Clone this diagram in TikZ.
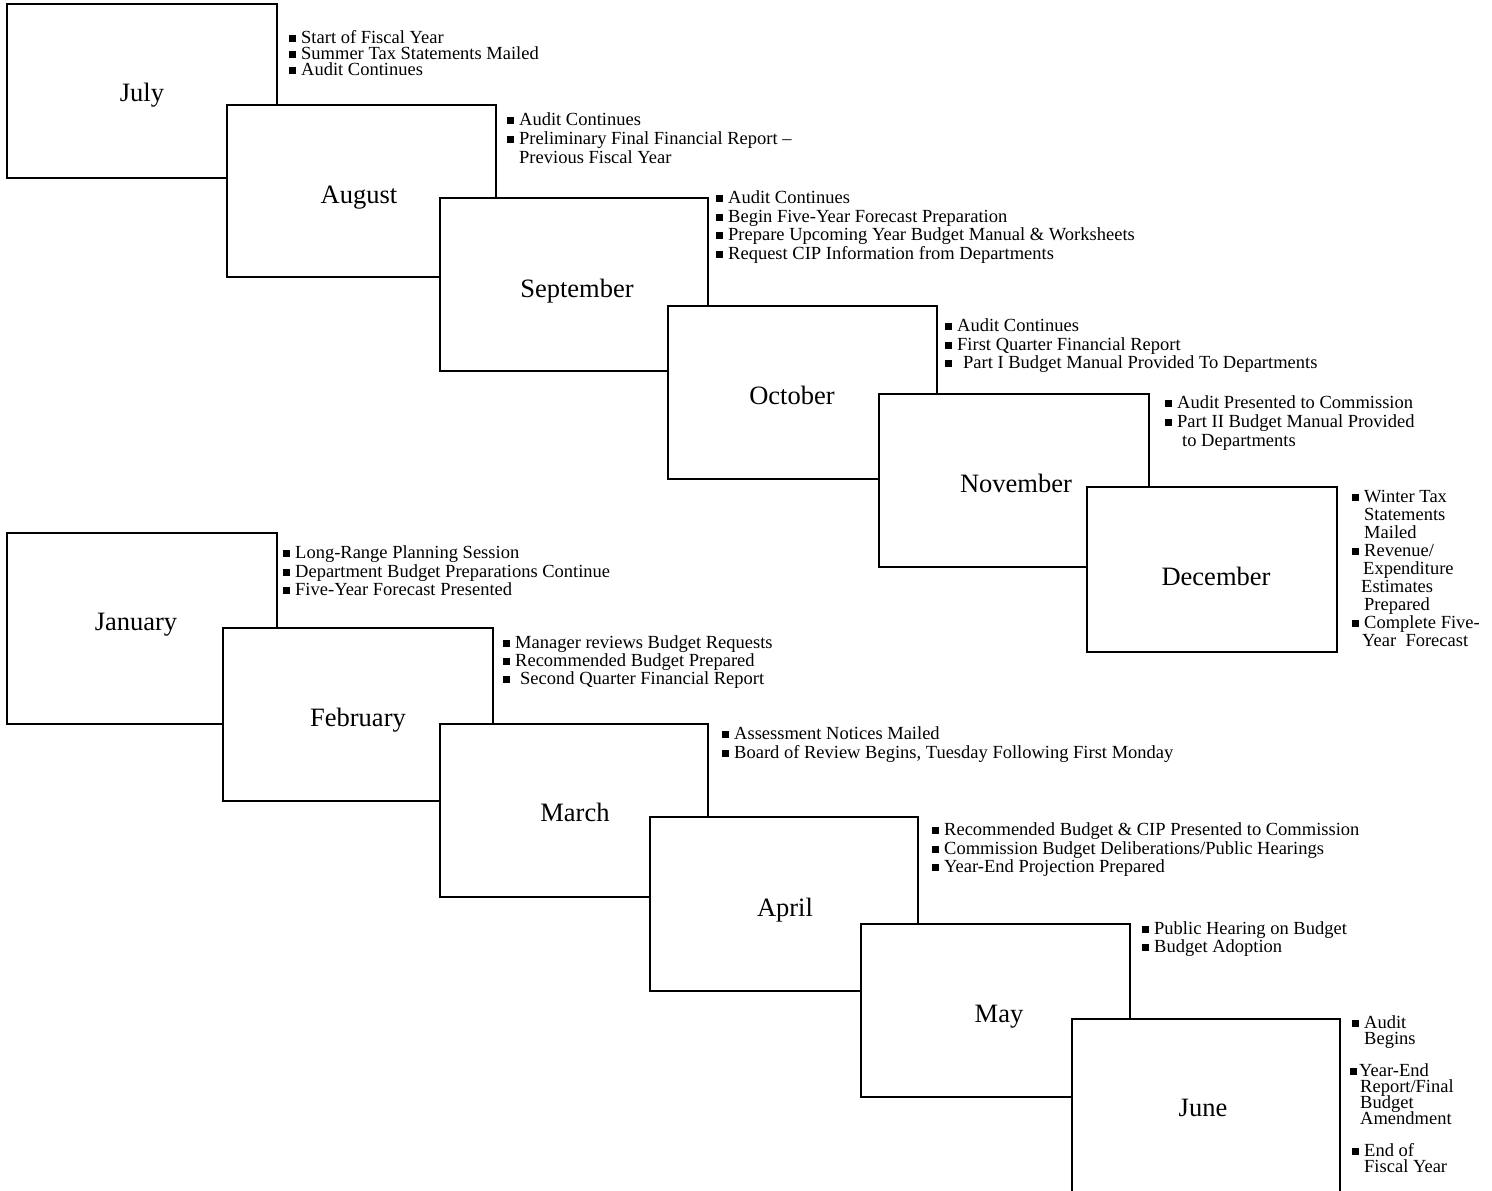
\documentclass[tikz,border=0pt]{standalone}
\usepackage{fontspec}
\setmainfont{Liberation Serif}
\newcommand\bul{\raisebox{1.5pt}{\rule{7pt}{7pt}}}
\newcommand\bitem[2]{\hbox{\rlap{\bul}\kern#1pt #2}}
\newcommand\cont[2]{\hbox{\kern#1pt #2}}
\newcommand\blist[2]{\vtop{\baselineskip=#1pt\lineskiplimit=-100pt\lineskip=0pt #2}}
\tikzset{
  monthbox/.style={draw, fill=white, line width=1.6pt, anchor=north west, inner sep=0pt, outer sep=0pt},
  monthlbl/.style={anchor=base, inner sep=0pt, font=\fontsize{26.5}{28}\selectfont},
  bullist/.style={anchor=base west, inner sep=0pt, font=\fontsize{18.5}{18.5}\selectfont}
}
\begin{document}
\begin{tikzpicture}[x=1pt,y=-1pt]
\clip (0,0) rectangle (1492,1191);
\fill[white] (0,0) rectangle (1492,1191);
% boxes
\node[monthbox, minimum width=270pt, minimum height=174pt] (july) at (7,4) {};
\node[monthbox, minimum width=269pt, minimum height=172pt] (aug) at (227,105) {};
\node[monthbox, minimum width=268pt, minimum height=173pt] (sep) at (440,198) {};
\node[monthbox, minimum width=269pt, minimum height=173pt] (oct) at (668,306) {};
\node[monthbox, minimum width=270pt, minimum height=173pt] (nov) at (879,394) {};
\node[monthbox, minimum width=250pt, minimum height=165pt] (dec) at (1087,487) {};
\node[monthbox, minimum width=270pt, minimum height=191pt] (jan) at (7,533) {};
\node[monthbox, minimum width=270pt, minimum height=173pt] (feb) at (223,628) {};
\node[monthbox, minimum width=268pt, minimum height=173pt] (mar) at (440,724) {};
\node[monthbox, minimum width=268pt, minimum height=174pt] (apr) at (650,817) {};
\node[monthbox, minimum width=269pt, minimum height=173pt] (may) at (861,924) {};
\node[monthbox, minimum width=268pt, minimum height=190pt] (jun) at (1072,1019) {};
% month labels
\node[monthlbl] (julyt) at (142,101) {July};
\node[monthlbl] (augt) at (359,203) {August};
\node[monthlbl] (sept) at (577,297) {September};
\node[monthlbl] (octt) at (792,404) {October};
\node[monthlbl] (novt) at (1016,492) {November};
\node[monthlbl] (dect) at (1216,585) {December};
\node[monthlbl] (jant) at (136,630) {January};
\node[monthlbl] (febt) at (358,726) {February};
\node[monthlbl] (mart) at (575,821) {March};
\node[monthlbl] (aprt) at (785,916) {April};
\node[monthlbl] (mayt) at (999,1022) {May};
\node[monthlbl] (junt) at (1203,1116) {June};
% lists
\node[bullist] (julyl) at (289,43.5) {\blist{16}{%
  \bitem{12}{Start of Fiscal Year}%
  \bitem{12}{Summer Tax Statements Mailed}%
  \bitem{12}{Audit Continues}}};
\node[bullist] (augl) at (507,125.5) {\blist{19}{%
  \bitem{12}{Audit Continues}%
  \bitem{12}{Preliminary Final Financial Report –}%
  \cont{12}{Previous Fiscal Year}}};
\node[bullist] (sepl) at (716,203.5) {\blist{18.7}{%
  \bitem{12}{Audit Continues}%
  \bitem{12}{Begin Five-Year Forecast Preparation}%
  \bitem{12}{Prepare Upcoming Year Budget Manual \& Worksheets}%
  \bitem{12}{Request CIP Information from Departments}}};
\node[bullist] (octl) at (945,331.5) {\blist{18.5}{%
  \bitem{12}{Audit Continues}%
  \bitem{12}{First Quarter Financial Report}%
  \bitem{18}{Part I Budget Manual Provided To Departments}}};
\node[bullist] (novl) at (1165,408.5) {\blist{19}{%
  \bitem{12}{Audit Presented to Commission}%
  \bitem{12}{Part II Budget Manual Provided}%
  \cont{17}{to Departments}}};
\node[bullist] (decl) at (1352,502) {\blist{18.1}{%
  \bitem{12}{Winter Tax}%
  \cont{12}{Statements}%
  \cont{12}{Mailed}%
  \bitem{12}{Revenue/}%
  \cont{11}{Expenditure}%
  \cont{9}{Estimates}%
  \cont{12}{Prepared}%
  \bitem{12}{Complete Five-}%
  \cont{10}{Year\ \ Forecast}}};
\node[bullist] (janl) at (283,558.5) {\blist{18.5}{%
  \bitem{12}{Long-Range Planning Session}%
  \bitem{12}{Department Budget Preparations Continue}%
  \bitem{12}{Five-Year Forecast Presented}}};
\node[bullist] (febl) at (503,648.5) {\blist{18}{%
  \bitem{12}{Manager reviews Budget Requests}%
  \bitem{12}{Recommended Budget Prepared}%
  \bitem{17}{Second Quarter Financial Report}}};
\node[bullist] (marl) at (722,739.5) {\blist{19}{%
  \bitem{12}{Assessment Notices Mailed}%
  \bitem{12}{Board of Review Begins, Tuesday Following First Monday}}};
\node[bullist] (aprl) at (932,835.5) {\blist{18.5}{%
  \bitem{12}{Recommended Budget \& CIP Presented to Commission}%
  \bitem{12}{Commission Budget Deliberations/Public Hearings}%
  \bitem{12}{Year-End Projection Prepared}}};
\node[bullist] (mayl) at (1142,934.5) {\blist{18}{%
  \bitem{12}{Public Hearing on Budget}%
  \bitem{12}{Budget Adoption}}};
\node[bullist] (junl) at (1352,1028.5) {\blist{16}{%
  \bitem{12}{Audit}%
  \cont{12}{Begins}%
  \hbox{}%
  \cont{-2}{\rlap{\bul}\kern9pt Year-End}%
  \cont{8}{Report/Final}%
  \cont{8}{Budget}%
  \cont{8}{Amendment}%
  \hbox{}%
  \bitem{12}{End of}%
  \cont{12}{Fiscal Year}}};
\end{tikzpicture}
\end{document}
